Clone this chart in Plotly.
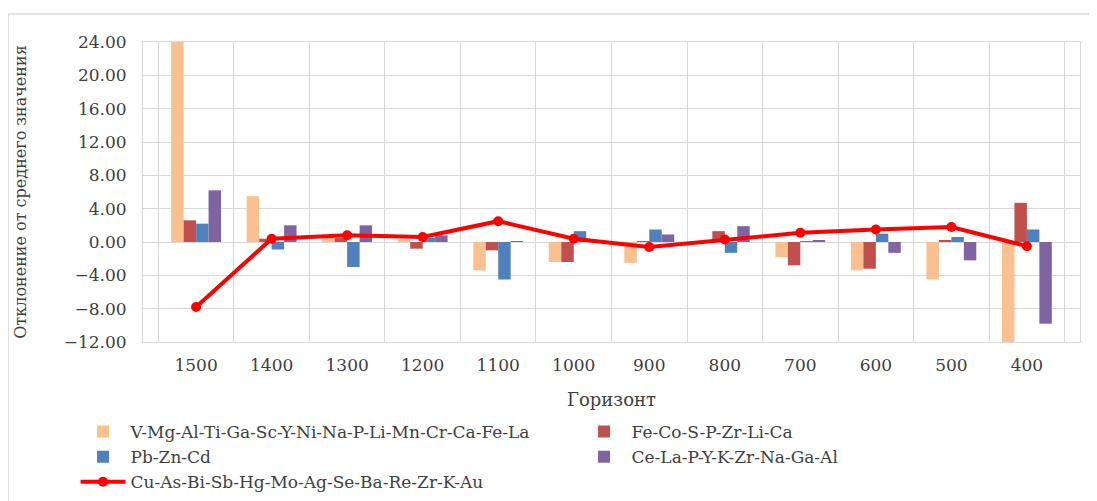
import plotly.graph_objects as go

categories = ["1500", "1400", "1300", "1200", "1100", "1000", "900", "800", "700", "600", "500", "400"]
s1_name = "V-Mg-Al-Ti-Ga-Sc-Y-Ni-Na-P-Li-Mn-Cr-Ca-Fe-La"
s1 = [24.0, 5.5, 0.5, 0.3, -3.4, -2.4, -2.5, 0.1, -1.8, -3.4, -4.5, -12.0]
s2_name = "Fe-Co-S-P-Zr-Li-Ca"
s2 = [2.6, 0.4, 0.5, -0.8, -1.0, -2.4, 0.1, 1.3, -2.8, -3.2, 0.2, 4.7]
s3_name = "Pb-Zn-Cd"
s3 = [2.2, -0.9, -3.0, 0.5, -4.5, 1.3, 1.5, -1.3, 0.1, 1.0, 0.6, 1.5]
s4_name = "Ce-La-P-Y-K-Zr-Na-Ga-Al"
s4 = [6.2, 2.0, 2.0, 0.8, 0.1, 0.2, 0.9, 1.9, 0.2, -1.3, -2.2, -9.8]
line_name = "Cu-As-Bi-Sb-Hg-Mo-Ag-Se-Ba-Re-Zr-K-Au"
line_vals = [-7.8, 0.4, 0.8, 0.6, 2.5, 0.4, -0.6, 0.3, 1.1, 1.5, 1.8, -0.5]
y_ticks = [-12, -8, -4, 0, 4, 8, 12, 16, 20, 24]

FONT = "DejaVu Serif, Liberation Serif, serif"
TXT = "#404040"

fig = go.Figure()
for name, vals, col in [(s1_name, s1, "#FAC090"), (s2_name, s2, "#C0504D"),
                        (s3_name, s3, "#4F81BD"), (s4_name, s4, "#8064A2")]:
    fig.add_trace(go.Bar(x=categories, y=vals, name=name, marker_color=col,
                         marker_line_width=0))
fig.add_trace(go.Scatter(x=categories, y=line_vals, name=line_name, mode="lines+markers",
                         line=dict(color="#FF0000", width=4),
                         marker=dict(color="#FF0000", size=10)))

fig.update_layout(
    width=1089, height=493,
    margin=dict(l=135, r=17, t=34, b=159, autoexpand=False),
    paper_bgcolor="white", plot_bgcolor="white",
    font=dict(family=FONT, size=17, color=TXT),
    barmode="group", bargap=0.34, bargroupgap=0,
    legend=dict(orientation="h", x=-0.072, xanchor="left", y=-0.24, yanchor="top",
                entrywidth=441, entrywidthmode="pixels", itemwidth=45,
                font=dict(family=FONT, size=17, color=TXT),
                tracegroupgap=0, traceorder="normal"),
    shapes=[
        dict(type="line", xref="paper", yref="paper", x0=-0.144, x1=1.02, y0=1.093, y1=1.093,
             line=dict(color="#D9D9D9", width=1.5)),
        dict(type="line", xref="paper", yref="paper", x0=-0.144, x1=-0.144, y0=1.093, y1=-0.53,
             line=dict(color="#D9D9D9", width=1.5)),
    ],
)
fig.update_xaxes(type="category", tickson="boundaries", showgrid=True, gridcolor="#D9D9D9",
                 showline=True, linecolor="#D9D9D9", mirror=True, ticks="",
                 ticklabelstandoff=8,
                 tickfont=dict(family=FONT, size=17, color=TXT),
                 title=dict(text="Горизонт", font=dict(family=FONT, size=18, color=TXT), standoff=18))
fig.update_yaxes(range=[-12, 24], tickvals=y_ticks, tickformat=".2f", showgrid=True,
                 gridcolor="#D9D9D9", zeroline=True, zerolinecolor="#D9D9D9", zerolinewidth=1,
                 showline=True, linecolor="#D9D9D9", mirror=True, ticks="",
                 ticklabelstandoff=12,
                 tickfont=dict(family=FONT, size=17, color=TXT),
                 title=dict(text="Отклонение от среднего значения",
                            font=dict(family=FONT, size=16, color=TXT), standoff=33))

fig.write_html("out.html")
